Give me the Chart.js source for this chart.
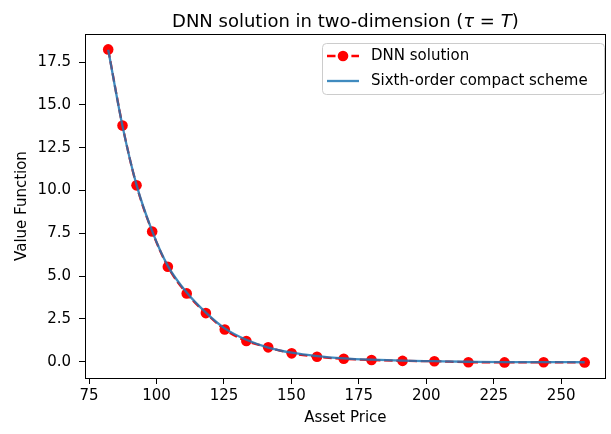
<!DOCTYPE html>
<html>
<head>
<meta charset="utf-8">
<script src="https://cdn.jsdelivr.net/npm/chart.js@4.4.1/dist/chart.umd.min.js"></script>
<style>
  html, body { margin: 0; padding: 0; background: #fff; }
  canvas { display: block; }
</style>
</head>
<body>
<canvas id="chart" width="611" height="434"></canvas>
<script>
// data
const assetPrice = [82.1, 87.4, 92.6, 98.4, 104.2, 111.2, 118.3, 125.3, 133.3, 141.4, 150.1, 159.5, 169.4, 179.7, 191.2, 203.0, 215.6, 229.0, 243.5, 258.7];
const dnnValues = [18.24, 13.79, 10.30, 7.61, 5.55, 3.99, 2.84, 1.88, 1.21, 0.84, 0.49, 0.29, 0.17, 0.10, 0.05, 0.03, -0.03, -0.04, -0.03, -0.04];
const compactValues = [18.22, 13.76, 10.33, 7.63, 5.60, 4.04, 2.87, 1.95, 1.28, 0.83, 0.53, 0.33, 0.20, 0.12, 0.06, 0.03, 0.00, -0.02, -0.02, -0.03];
const xTicks = [75, 100, 125, 150, 175, 200, 225, 250];
const yTicks = [0, 2.5, 5, 7.5, 10, 12.5, 15, 17.5];

const FONT = "'DejaVu Sans', sans-serif";
const RED = '#ff0000';
const BLUE = 'rgba(31, 119, 180, 0.85)';

const toPoints = (xs, ys) => xs.map((x, i) => ({ x: x, y: ys[i] }));

// 위/오른쪽 테두리, 제목, 범례
const decorPlugin = {
  id: 'decor',
  afterDraw(chart) {
    const { ctx, chartArea: a } = chart;
    ctx.save();
    ctx.strokeStyle = '#000';
    ctx.lineWidth = 1;
    ctx.strokeRect(Math.round(a.left) + 0.5, Math.round(a.top) + 0.5,
      Math.round(a.right - a.left) - 1, Math.round(a.bottom - a.top));

    // title with italic math parts
    const parts = [
      ['DNN solution in two-dimension (', 'normal'],
      ['τ', 'italic'],
      [' = ', 'normal'],
      ['T', 'italic'],
      [')', 'normal']
    ];
    const size = 18;
    let total = 0;
    parts.forEach(p => {
      ctx.font = `${p[1]} ${size}px ${FONT}`;
      total += ctx.measureText(p[0]).width;
    });
    let tx = (a.left + a.right) / 2 - total / 2;
    ctx.fillStyle = '#000';
    ctx.textBaseline = 'alphabetic';
    parts.forEach(p => {
      ctx.font = `${p[1]} ${size}px ${FONT}`;
      ctx.fillText(p[0], tx, 27);
      tx += ctx.measureText(p[0]).width;
    });

    // legend
    const lx = 322, ly = 43, lw = 282, lh = 51;
    ctx.beginPath();
    ctx.roundRect(lx + 0.5, ly + 0.5, lw, lh, 4);
    ctx.fillStyle = 'rgba(255,255,255,0.8)';
    ctx.fill();
    ctx.strokeStyle = '#cccccc';
    ctx.stroke();

    const ds = chart.data.datasets;
    const rows = [56, 81];
    ds.forEach((d, i) => {
      const y = rows[i];
      ctx.beginPath();
      ctx.setLineDash(d.borderDash || []);
      ctx.strokeStyle = d.borderColor;
      ctx.lineWidth = d.borderWidth;
      ctx.moveTo(327, y);
      ctx.lineTo(359, y);
      ctx.stroke();
      ctx.setLineDash([]);
      if (d.pointRadius > 0) {
        ctx.beginPath();
        ctx.arc(343, y, d.pointRadius, 0, Math.PI * 2);
        ctx.fillStyle = d.pointBackgroundColor;
        ctx.fill();
      }
      ctx.fillStyle = '#000';
      ctx.font = `15px ${FONT}`;
      ctx.textBaseline = 'middle';
      ctx.fillText(d.label, 371, y);
    });
    ctx.restore();
  }
};

const ctx = document.getElementById('chart').getContext('2d');
const chart = new Chart(ctx, {
  type: 'line',
  data: {
    datasets: [{
      label: 'DNN solution',
      data: toPoints(assetPrice, dnnValues),
      borderColor: RED,
      borderWidth: 2.3,
      borderDash: [8.5, 3.7],
      pointRadius: 5.3,
      pointBackgroundColor: RED,
      pointBorderWidth: 0,
      cubicInterpolationMode: 'monotone',
      order: 2
    }, {
      label: 'Sixth-order compact scheme',
      data: toPoints(assetPrice, compactValues),
      borderColor: BLUE,
      borderWidth: 2.3,
      pointRadius: 0,
      cubicInterpolationMode: 'monotone',
      order: 1
    }]
  },
  options: {
    responsive: false,
    animation: false,
    devicePixelRatio: 1,
    layout: { padding: { top: 34, right: 2, left: 0, bottom: 0 } },
    plugins: {
      legend: { display: false },
      title: { display: false },
      tooltip: { enabled: false }
    },
    scales: {
      x: {
        type: 'linear',
        min: 73.5,
        max: 266.5,
        afterFit: s => { s.height = 56; },
        afterBuildTicks: s => { s.ticks = xTicks.map(v => ({ value: v })); },
        ticks: {
          color: '#000',
          font: { family: FONT, size: 15 },
          padding: 3,
          maxRotation: 0,
          callback: v => String(v)
        },
        grid: { drawOnChartArea: false, drawTicks: true, tickLength: 6, color: '#000' },
        border: { display: false },
        title: {
          display: true,
          text: 'Asset Price',
          color: '#000',
          font: { family: FONT, size: 15 },
          padding: { top: 0, bottom: 7 }
        }
      },
      y: {
        type: 'linear',
        min: -0.95,
        max: 19.14,
        afterFit: s => { s.width = 85; },
        afterBuildTicks: s => { s.ticks = yTicks.map(v => ({ value: v })); },
        ticks: {
          color: '#000',
          font: { family: FONT, size: 15 },
          padding: 8,
          callback: v => v.toFixed(1)
        },
        grid: { drawOnChartArea: false, drawTicks: true, tickLength: 6, color: '#000' },
        border: { display: false },
        title: {
          display: true,
          text: 'Value Function',
          color: '#000',
          font: { family: FONT, size: 15 },
          padding: { top: 13, bottom: 0 }
        }
      }
    }
  },
  plugins: [decorPlugin]
});
</script>
</body>
</html>
